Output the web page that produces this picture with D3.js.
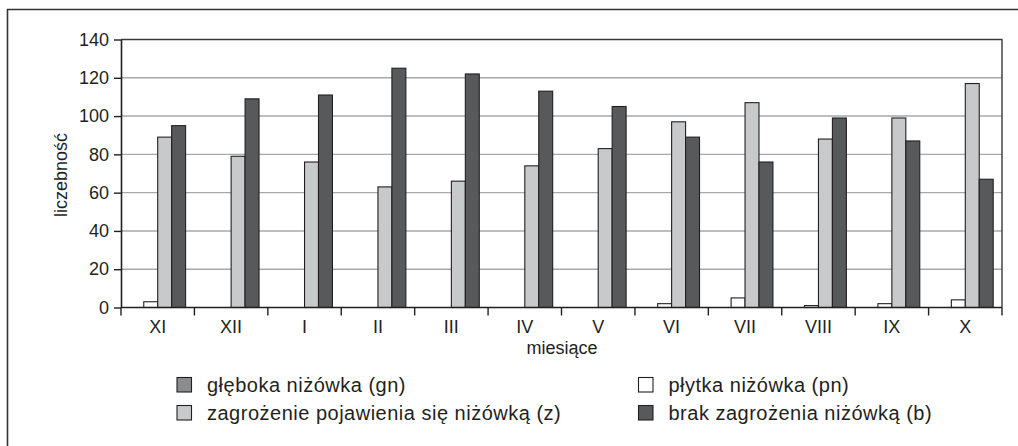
<!doctype html>
<html>
<head>
<meta charset="utf-8">
<script src="https://d3js.org/d3.v7.min.js"></script>
<style>
  body { margin: 0; background: #fff; }
  svg { display: block; font-family: "Liberation Sans", Arial, sans-serif; }
</style>
</head>
<body>
<div id="chart"></div>
<script>
// data
var months = ["XI", "XII", "I", "II", "III", "IV", "V", "VI", "VII", "VIII", "IX", "X"];
var seriesKeys = ["gn", "pn", "z", "b"];
var gn = [0, 0, 0, 0, 0, 0, 0, 0, 0, 0, 0, 0];
var pn = [3, 0, 0, 0, 0, 0, 0, 2, 5, 1, 2, 4];
var z  = [89, 79, 76, 63, 66, 74, 83, 97, 107, 88, 99, 117];
var b  = [95, 109, 111, 125, 122, 113, 105, 89, 76, 99, 87, 67];
var yTicks = [0, 20, 40, 60, 80, 100, 120, 140];
var legendLabels = {
  gn: "głęboka niżówka (gn)",
  pn: "płytka niżówka (pn)",
  z: "zagrożenie pojawienia się niżówką (z)",
  b: "brak zagrożenia niżówką (b)"
};
var colors = { gn: "#8b8c8e", pn: "#ffffff", z: "#c8c9cb", b: "#58595b" };

var W = 1018, H = 446;
var margin = {top: 39.5, left: 121};
var width = 1002 - margin.left,
    height = 307.5 - margin.top;

var svg = d3.select("#chart").append("svg")
    .attr("width", W).attr("height", H);

// outer frame
svg.append("path")
    .attr("d", "M7.5," + H + "V9.5H" + W)
    .attr("fill", "none").attr("stroke", "#333").attr("stroke-width", 1.6);

var g = svg.append("g")
    .attr("transform", "translate(" + margin.left + "," + margin.top + ")");

var x0 = d3.scaleBand().domain(months).range([0, width]).paddingInner(0.24).paddingOuter(0.12);
var x1 = d3.scaleBand().domain(seriesKeys).range([0, x0.bandwidth()]);
var y = d3.scaleLinear().domain([0, 140]).range([height, 0]);

// gridlines
g.selectAll(".grid").data(yTicks.slice(1, -1)).enter().append("line")
    .attr("x1", 0).attr("x2", width)
    .attr("y1", function(d) { return y(d); }).attr("y2", function(d) { return y(d); })
    .attr("stroke", "#a7a8aa").attr("stroke-width", 1.4);

// plot border top and right
g.append("path")
    .attr("d", "M0," + y(140) + "H" + width + "V" + height)
    .attr("fill", "none").attr("stroke", "#3a3a3a").attr("stroke-width", 1.4);

var data = months.map(function(m, i) {
  return { month: m, gn: gn[i], pn: pn[i], z: z[i], b: b[i] };
});

var groups = g.selectAll(".grp").data(data).enter().append("g")
    .attr("transform", function(d) { return "translate(" + x0(d.month) + ",0)"; });

groups.selectAll("rect")
    .data(function(d) {
      return seriesKeys.filter(function(k) { return d[k] > 0; })
        .map(function(k) { return { key: k, value: d[k] }; });
    })
    .enter().append("rect")
    .attr("x", function(d) { return x1(d.key); })
    .attr("width", x1.bandwidth())
    .attr("y", function(d) { return y(d.value); })
    .attr("height", function(d) { return height - y(d.value); })
    .attr("fill", function(d) { return colors[d.key]; })
    .attr("stroke", "#231f20").attr("stroke-width", 1.1);

// y axis
var yAxis = g.append("g")
    .call(d3.axisLeft(y).tickValues(yTicks).tickSize(7).tickSizeOuter(0));
yAxis.selectAll("text").attr("font-size", "18px").attr("fill", "#231f20")
    .attr("font-family", "Liberation Sans, Arial, sans-serif").attr("dx", "-2");
yAxis.selectAll("line").attr("stroke", "#231f20").attr("stroke-width", 1.4);
yAxis.select(".domain").attr("stroke", "#231f20").attr("stroke-width", 1.6);

// x axis: ticks at category boundaries
var xAxis = g.append("g").attr("transform", "translate(0," + height + ")");
xAxis.append("line").attr("x1", 0).attr("x2", width)
    .attr("stroke", "#231f20").attr("stroke-width", 1.6);
xAxis.selectAll(".tk").data(d3.range(months.length + 1)).enter().append("line")
    .attr("x1", function(i) { return i * width / months.length; })
    .attr("x2", function(i) { return i * width / months.length; })
    .attr("y1", 0).attr("y2", 8)
    .attr("stroke", "#231f20").attr("stroke-width", 1.4);
xAxis.selectAll(".lbl").data(months).enter().append("text")
    .attr("x", function(d, i) { return (i + 0.5) * width / months.length; })
    .attr("y", 25)
    .attr("text-anchor", "middle")
    .attr("font-size", "18px").attr("fill", "#231f20")
    .text(function(d) { return d; });

// axis titles
svg.append("text")
    .attr("x", 562).attr("y", 354)
    .attr("text-anchor", "middle").attr("font-size", "18px").attr("fill", "#231f20")
    .text("miesiące");
svg.append("text")
    .attr("transform", "translate(66.5,175) rotate(-90)")
    .attr("text-anchor", "middle").attr("font-size", "18px").attr("fill", "#231f20")
    .text("liczebność");

// legend
var legendPos = [
  { key: "gn", x: 177, y: 377.5 },
  { key: "pn", x: 638.5, y: 377.5 },
  { key: "z", x: 177, y: 405.5 },
  { key: "b", x: 638.5, y: 405.5 }
];
var lg = svg.selectAll(".leg").data(legendPos).enter().append("g")
    .attr("transform", function(d) { return "translate(" + d.x + "," + d.y + ")"; });
lg.append("rect").attr("width", 14.5).attr("height", 14.5)
    .attr("fill", function(d) { return colors[d.key]; })
    .attr("stroke", "#231f20").attr("stroke-width", 1.1);
lg.append("text").attr("x", 30).attr("y", 14.2)
    .attr("font-size", "20px").attr("letter-spacing", "0.5px").attr("fill", "#231f20")
    .text(function(d) { return legendLabels[d.key]; });
</script>
</body>
</html>
